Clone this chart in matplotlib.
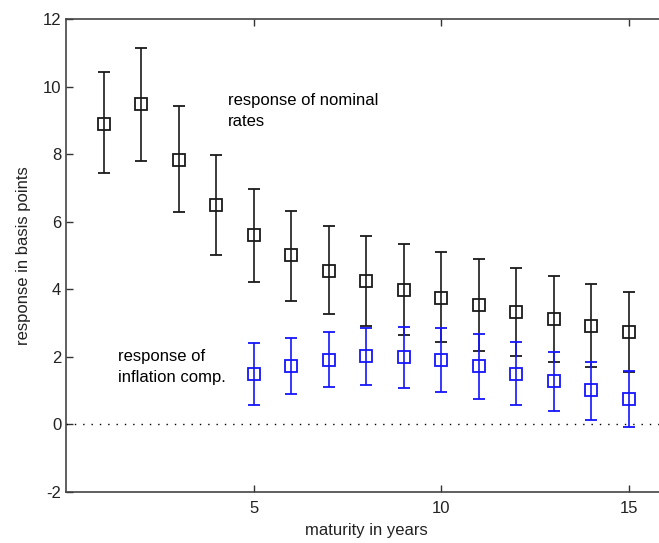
import numpy as np
import matplotlib
matplotlib.use("Agg")
from matplotlib import pyplot as plt

plt.rcParams['font.family'] = ['Liberation Sans', 'DejaVu Sans']
plt.rcParams['axes.unicode_minus'] = False

## maturities and responses
mat_nom = np.arange(1, 16)
nom = [8.90, 9.47, 7.83, 6.50, 5.59, 5.02, 4.55, 4.24, 3.98, 3.74, 3.54, 3.33, 3.12, 2.92, 2.72]
nom_hi = [10.42, 11.15, 9.43, 7.96, 6.97, 6.32, 5.87, 5.58, 5.33, 5.09, 4.88, 4.63, 4.40, 4.15, 3.90]
nom_lo = [7.43, 7.79, 6.28, 5.02, 4.20, 3.66, 3.25, 2.92, 2.63, 2.42, 2.18, 2.02, 1.85, 1.70, 1.54]

mat_inf = np.arange(5, 16)
inf = [1.48, 1.73, 1.90, 2.02, 1.98, 1.90, 1.73, 1.48, 1.28, 1.00, 0.75]
inf_hi = [2.39, 2.55, 2.72, 2.85, 2.88, 2.84, 2.67, 2.42, 2.14, 1.85, 1.57]
inf_lo = [0.57, 0.90, 1.11, 1.15, 1.07, 0.95, 0.74, 0.58, 0.38, 0.13, -0.08]

fig = plt.figure(figsize=(6.59, 5.43), dpi=100)
ax = fig.add_axes([0.1002, 0.0945, 0.9105, 0.8705])

err_nom = [np.array(nom) - np.array(nom_lo), np.array(nom_hi) - np.array(nom)]
err_inf = [np.array(inf) - np.array(inf_lo), np.array(inf_hi) - np.array(inf)]

ax.axhline(0, color='k', linewidth=1.0, linestyle=(0, (1, 5)))
ax.errorbar(mat_nom, nom, yerr=err_nom, fmt='s', color='#1a1a1a', mfc='none', mec='#1a1a1a',
            ms=8.5, mew=1.3, elinewidth=1.2, capsize=4.2, capthick=1.2)
ax.errorbar(mat_inf, inf, yerr=err_inf, fmt='s', color='#1515ff', mfc='none', mec='#1515ff',
            ms=8.5, mew=1.3, elinewidth=1.2, capsize=4.2, capthick=1.2)

ax.text(4.32, 9.8, 'response of nominal\nrates', fontsize=12, va='top', ha='left', linespacing=1.5)
ax.text(1.39, 2.24, 'response of\ninflation comp.', fontsize=12, va='top', ha='left', linespacing=1.5)

ax.set_xlim(0, 16)
ax.set_ylim(-2, 12)
ax.set_xticks([5, 10, 15])
ax.set_yticks(np.arange(-2, 13, 2))
ax.tick_params(direction='in', top=True, right=True, length=5, width=1.0,
               labelsize=12, colors='#333333', labelcolor='#222222')
ax.tick_params(axis='x', pad=7)
ax.set_xlabel('maturity in years', fontsize=12, color='#222222', labelpad=5)
ax.set_ylabel('response in basis points', fontsize=12, color='#222222', labelpad=8)
for s in ax.spines.values():
    s.set_color('#444444')
    s.set_linewidth(1.2)

fig.savefig('out.png', dpi=100)
